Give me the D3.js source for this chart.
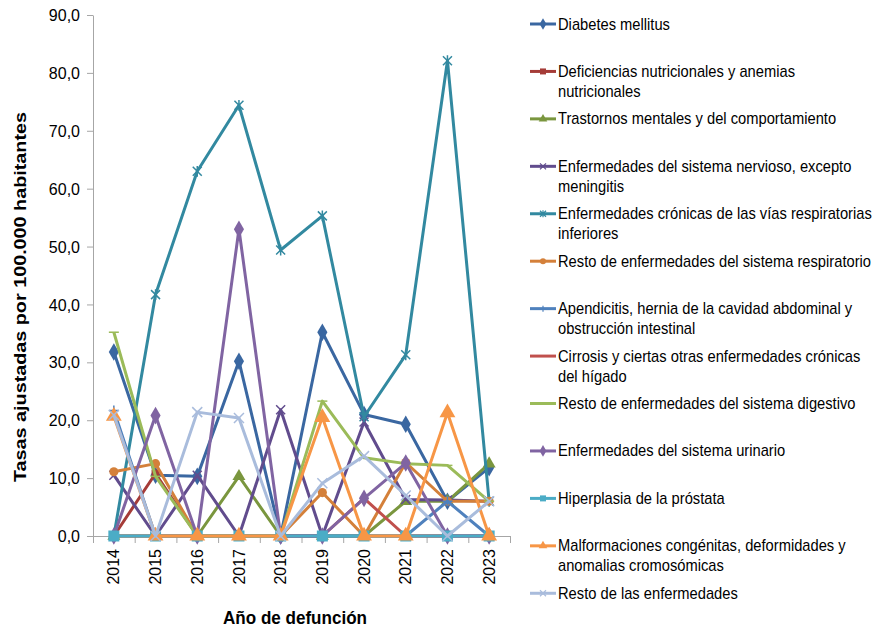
<!DOCTYPE html>
<html><head><meta charset="utf-8">
<script src="https://cdn.jsdelivr.net/npm/d3@7"></script>
<style>
html,body{margin:0;padding:0;background:#fff;}
svg{display:block;}
</style></head>
<body><svg id="chart" width="876" height="628"></svg>
<script>
const years = ["2014","2015","2016","2017","2018","2019","2020","2021","2022","2023"];
const yTicks = [0,10,20,30,40,50,60,70,80,90];
const legendLines = [
  ["Diabetes mellitus"],
  ["Deficiencias nutricionales y anemias","nutricionales"],
  ["Trastornos mentales y del comportamiento"],
  ["Enfermedades del sistema nervioso, excepto","meningitis"],
  ["Enfermedades crónicas de las vías respiratorias","inferiores"],
  ["Resto de enfermedades del sistema respiratorio"],
  ["Apendicitis, hernia de la cavidad abdominal y","obstrucción intestinal"],
  ["Cirrosis y ciertas otras enfermedades crónicas","del hígado"],
  ["Resto de enfermedades del sistema digestivo"],
  ["Enfermedades del sistema urinario"],
  ["Hiperplasia de la próstata"],
  ["Malformaciones congénitas, deformidades y","anomalias cromosómicas"],
  ["Resto de las enfermedades"]
];
const diabetes       = [31.8, 10.5, 10.3, 30.2, 0, 35.2, 21.0, 19.3, 6.0, 11.8];
const deficiencias   = [0, 10.8, 0, 0, 0, 0, 0, 0, 0, 0];
const trastornos     = [0, 0, 0, 10.3, 0, 0, 0, 6.0, 6.0, 12.5];
const nervioso       = [10.5, 0, 10.5, 0, 21.8, 0, 19.7, 6.3, 6.2, 6.0];
const cronicas       = [0, 41.7, 63.0, 74.4, 49.4, 55.3, 20.6, 31.3, 82.1, 6.0];
const restoResp      = [11.1, 12.5, 0, 0, 0, 7.5, 0, 12.7, 6.0, 6.0];
const apendicitis    = [21.7, 0, 0, 0, 0, 0, 0, 0, 6.0, 0];
const cirrosis       = [0, 0, 0, 0, 0, 0, 6.5, 0, 0, 0];
const restoDigestivo = [35.2, 10.3, 0, 0, 0, 23.3, 13.5, 12.5, 12.2, 6.0];
const urinario       = [0, 20.8, 0, 53.0, 0, 0, 6.5, 12.6, 0, 0];
const hiperplasia    = [0, 0, 0, 0, 0, 0, 0, 0, 0, 0];
const malformaciones = [20.7, 0, 0, 0, 0, 20.5, 0, 0, 21.3, 0];
const restoEnf       = [20.9, 0, 21.4, 20.4, 0, 9.1, 13.8, 7.0, 0, 6.0];

const seriesValues = [diabetes, deficiencias, trastornos, nervioso, cronicas, restoResp,
  apendicitis, cirrosis, restoDigestivo, urinario, hiperplasia, malformaciones, restoEnf];
const colors = ["#3A67A1","#A53C38","#7A963E","#614C8D","#3289A0","#D4803A",
  "#4F81BD","#C0504D","#9BBB59","#8064A2","#4BACC6","#F79646","#A9BCDC"];
const markers = ["diamond","square","triangle","x","asterisk","circle",
  "plus","none","dash","diamond","square","triangle","x"];

const svg = d3.select("#chart");
const L = 93, R = 510, T = 15, B = 536;
const x = d3.scaleBand().domain(years).range([L, R]).padding(0);
const xb = d3.scaleLinear().domain([0, 10]).range([L, R]);
const y = d3.scaleLinear().domain([0, 90]).range([B, T]);
const loc = d3.formatLocale({decimal: ",", thousands: ".", grouping: [3], currency: ["", ""]});
const fmt = loc.format(".1f");

const axisColor = "#A6A6A6";
const font = "'Liberation Sans', Arial, sans-serif";

// Y axis
const gy = svg.append("g").attr("transform", `translate(${L},0)`)
  .call(d3.axisLeft(y).tickValues(yTicks).tickFormat(fmt).tickSize(6).tickSizeOuter(0));
gy.select(".domain").attr("stroke", axisColor);
gy.selectAll(".tick line").attr("stroke", axisColor);
gy.selectAll(".tick text").attr("x", -13).attr("dy", "0.35em")
  .attr("font-family", font).attr("font-size", 16).attr("fill", "#000");

// X axis
const gxt = svg.append("g").attr("transform", `translate(0,${B})`)
  .call(d3.axisBottom(xb).tickValues(d3.range(0, 11)).tickFormat("").tickSize(7).tickSizeOuter(0));
gxt.select(".domain").attr("stroke", axisColor);
gxt.selectAll(".tick line").attr("stroke", axisColor);
const gx = svg.append("g").attr("transform", `translate(0,${B})`)
  .call(d3.axisBottom(x).tickSize(0));
gx.select(".domain").remove();
gx.selectAll(".tick text")
  .attr("transform", "rotate(-90)")
  .attr("x", -13).attr("y", 0).attr("dy", "0.35em")
  .attr("text-anchor", "end")
  .attr("font-family", font).attr("font-size", 16).attr("fill", "#000");

// titles
svg.append("text").attr("transform", "translate(26,297) rotate(-90)")
  .attr("text-anchor", "middle").attr("font-family", font).attr("font-weight", "bold")
  .attr("font-size", 17).attr("fill", "#000")
  .attr("textLength", 370).attr("lengthAdjust", "spacingAndGlyphs")
  .text("Tasas ajustadas por 100.000 habitantes");
svg.append("text").attr("x", 295).attr("y", 624)
  .attr("text-anchor", "middle").attr("font-family", font).attr("font-weight", "bold")
  .attr("font-size", 18).attr("fill", "#000")
  .attr("textLength", 144).attr("lengthAdjust", "spacingAndGlyphs")
  .text("Año de defunción");

function markerPath(type, s) {
  switch (type) {
    case "diamond": return d3.symbol(d3.symbolDiamond, s * s * 1.1)();
    case "square": return d3.symbol(d3.symbolSquare, s * s)();
    case "triangle": return d3.symbol(d3.symbolTriangle, s * s * 0.9)();
    case "circle": return d3.symbol(d3.symbolCircle, s * s * 0.8)();
    case "x": { const h = s / 2; return `M${-h},${-h}L${h},${h}M${-h},${h}L${h},${-h}`; }
    case "asterisk": { const h = s / 2; return `M${-h},${-h}L${h},${h}M${-h},${h}L${h},${-h}M0,${-h*1.2}L0,${h*1.2}`; }
    case "plus": { const h = s / 2; return `M${-h},0L${h},0M0,${-h}L0,${h}`; }
    case "dash": { const h = s / 2; return `M${-h},0L${h},0`; }
    default: return "";
  }
}
const filled = t => ["diamond","square","triangle","circle"].includes(t);
const markerSize = [9, 8, 9, 9, 9, 9, 10, 0, 10, 9, 11, 11, 10];

const line = d3.line().x((d, i) => x(years[i]) + x.bandwidth() / 2).y(d => y(d));
const plot = svg.append("g");
seriesValues.forEach((vals, si) => {
  const g = plot.append("g");
  g.append("path").datum(vals).attr("d", line)
    .attr("fill", "none").attr("stroke", colors[si]).attr("stroke-width", 3)
    .attr("stroke-linejoin", "round");
  if (markers[si] !== "none") {
    g.selectAll("path.m").data(vals).join("path").attr("class", "m")
      .attr("transform", (d, i) => `translate(${x(years[i]) + x.bandwidth() / 2},${y(d)})`)
      .attr("d", markerPath(markers[si], markerSize[si]))
      .attr("fill", filled(markers[si]) ? colors[si] : "none")
      .attr("stroke", colors[si]).attr("stroke-width", filled(markers[si]) ? 0 : 1.5);
  }
});

// Legend
const leg = svg.append("g");
const textGroups = [];
legendLines.forEach((lines, i) => {
  const ly = 24 + i * 47.44;
  const g = leg.append("g");
  g.append("line").attr("x1", 530).attr("x2", 556).attr("y1", ly).attr("y2", ly)
    .attr("stroke", colors[i]).attr("stroke-width", 3);
  if (markers[i] !== "none") {
    g.append("path").attr("transform", `translate(543,${ly})`)
      .attr("d", markerPath(markers[i], 6))
      .attr("fill", filled(markers[i]) ? colors[i] : "none")
      .attr("stroke", colors[i]).attr("stroke-width", filled(markers[i]) ? 0 : 1.2);
  }
  const tg = g.append("g").attr("transform", `translate(558,${ly + 5.5})`);
  const t = tg.append("text").attr("x", 0).attr("y", 0)
    .attr("font-family", font).attr("font-size", 16).attr("fill", "#000");
  lines.forEach((s, k) => t.append("tspan").attr("x", 0).attr("dy", k === 0 ? 0 : 20).text(s));
  textGroups.push({tg, t});
});
// horizontally condense legend text to match the narrow face of the reference
const widest = textGroups[4].t.select("tspan").node().getComputedTextLength();
const k = 314 / widest;
textGroups.forEach(({tg}, i) => {
  const ly = 24 + i * 47.44;
  tg.attr("transform", `translate(558,${ly + 5.5}) scale(${k},1)`);
});
</script></body></html>
